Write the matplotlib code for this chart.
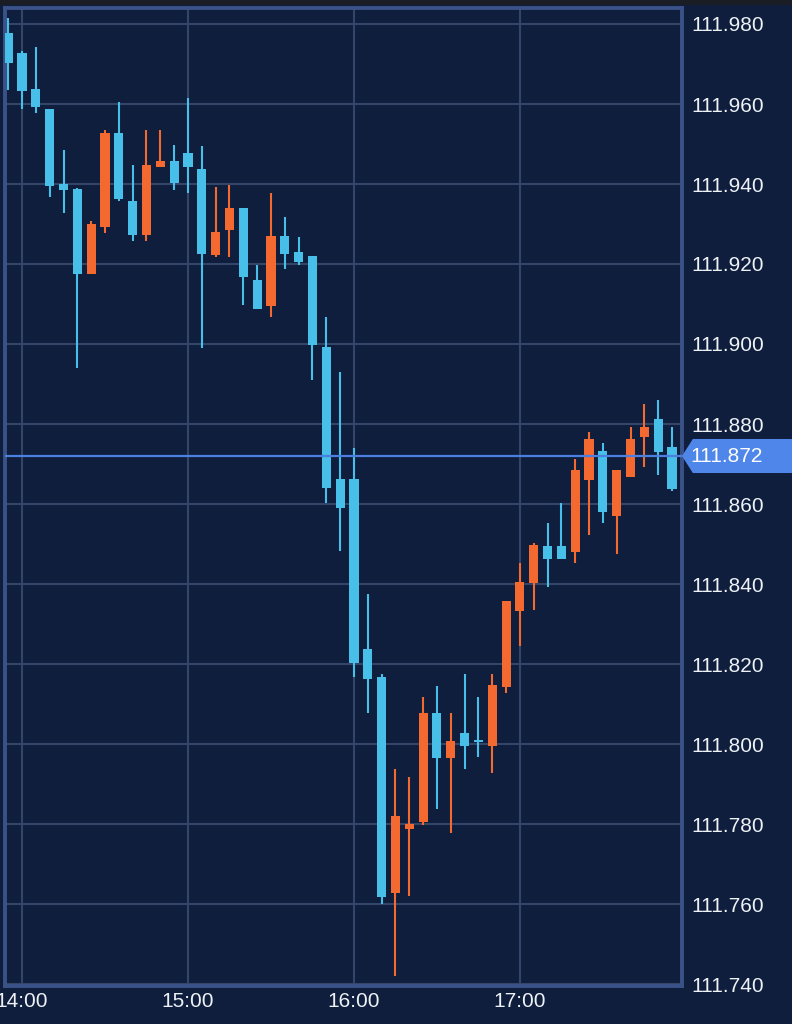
import numpy as np
import pandas as pd
import matplotlib
matplotlib.use("Agg")
import matplotlib.pyplot as plt
import matplotlib.dates as mdates
from matplotlib.patches import Polygon, Rectangle
from matplotlib.transforms import blended_transform_factory

# 5 minute candles starting 13:55
start = "2019-01-01 13:55"
opens = [111.9777, 111.9727, 111.9637, 111.9587, 111.9400, 111.9388, 111.9175, 111.9293,
         111.9527, 111.9358, 111.9273, 111.9443, 111.9458, 111.9478, 111.9438, 111.9222,
         111.9285, 111.9339, 111.9160, 111.9094, 111.9270, 111.9230, 111.9220, 111.8992,
         111.8663, 111.8663, 111.8237, 111.8168, 111.7627, 111.7787, 111.7805, 111.8078,
         111.7964, 111.8028, 111.8008, 111.7995, 111.8143, 111.8333, 111.8402, 111.8496,
         111.8496, 111.8480, 111.8660, 111.8733, 111.8570, 111.8668, 111.8768, 111.8813,
         111.8743]
closes = [111.9702, 111.9633, 111.9593, 111.9395, 111.9385, 111.9175, 111.9300, 111.9528,
          111.9362, 111.9273, 111.9448, 111.9458, 111.9403, 111.9443, 111.9225, 111.9279,
          111.9339, 111.9167, 111.9087, 111.9270, 111.9225, 111.9205, 111.8997, 111.8639,
          111.8590, 111.8203, 111.8163, 111.7617, 111.7820, 111.7800, 111.8078, 111.7964,
          111.8008, 111.7995, 111.8006, 111.8147, 111.8357, 111.8406, 111.8497, 111.8462,
          111.8462, 111.8685, 111.8763, 111.8579, 111.8685, 111.8763, 111.8793, 111.8730,
          111.8638]
highs = [111.9814, 111.9733, 111.9743, 111.9587, 111.9485, 111.9390, 111.9307, 111.9535,
         111.9604, 111.9447, 111.9535, 111.9535, 111.9497, 111.9614, 111.9496, 111.9393,
         111.9397, 111.9340, 111.9198, 111.9377, 111.9317, 111.9267, 111.9220, 111.9068,
         111.8929, 111.8741, 111.8375, 111.8174, 111.7937, 111.7917, 111.8117, 111.8145,
         111.8077, 111.8174, 111.8117, 111.8174, 111.8357, 111.8453, 111.8502, 111.8552,
         111.8602, 111.8712, 111.8781, 111.8752, 111.8685, 111.8792, 111.8850, 111.8860,
         111.8792]
lows = [111.9635, 111.9587, 111.9577, 111.9367, 111.9327, 111.8939, 111.9175, 111.9277,
        111.9357, 111.9258, 111.9258, 111.9443, 111.9385, 111.9377, 111.8989, 111.9218,
        111.9218, 111.9098, 111.9087, 111.9068, 111.9188, 111.9198, 111.8910, 111.8603,
        111.8483, 111.8167, 111.8077, 111.7600, 111.7420, 111.7620, 111.7798, 111.7838,
        111.7778, 111.7937, 111.7967, 111.7927, 111.8127, 111.8245, 111.8335, 111.8393,
        111.8462, 111.8453, 111.8523, 111.8553, 111.8474, 111.8668, 111.8692, 111.8672,
        111.8633]
last_price = 111.872
price_ticks = [111.740, 111.760, 111.780, 111.800, 111.820, 111.840, 111.860,
               111.880, 111.900, 111.920, 111.940, 111.960, 111.980]
hour_ticks = ["14:00", "15:00", "16:00", "17:00"]

bg = "#0e1e3c"
grid_c = "#33466a"
up_c = "#f3692f"
down_c = "#47bfe8"
tag_c = "#4f86ea"

times = pd.date_range(start, periods=len(opens), freq="5min")
x = mdates.date2num(times.to_pydatetime())
o = np.array(opens)
c = np.array(closes)
step = 5 / (24 * 60)

fig = plt.figure(figsize=(7.92, 10.24), dpi=100, facecolor=bg)
ax = fig.add_axes([5 / 792, 1 - 986 / 1024, 677 / 792, 978 / 1024])
ax.set_facecolor(bg)
fig.patches.append(Rectangle((0, 1 - 5 / 1024), 1, 5 / 1024, transform=fig.transFigure,
                             facecolor="#1b1d24", edgecolor="none"))

colors = [up_c if cl >= op else down_c for op, cl in zip(o, c)]
ax.vlines(x, lows, highs, colors=colors, linewidth=1.5, zorder=3)
body_h = np.maximum(np.abs(c - o), 0.0004)
ax.bar(x, body_h, bottom=np.minimum(o, c), width=step * 0.66, color=colors,
       linewidth=0, zorder=4)

# current price line
ax.axhline(last_price, color="#4b7fe0", linewidth=1.6, zorder=5)

ax.set_ylim(111.7395, 111.984)
x0 = mdates.date2num(pd.Timestamp("2019-01-01 14:00"))
ax.set_xlim(x0 - 1.23 * step, x0 + 47.72 * step)

hour_x = mdates.date2num(pd.to_datetime(["2019-01-01 " + h for h in hour_ticks]).to_pydatetime())
ax.set_xticks(hour_x)
ax.set_xticklabels(hour_ticks)
ax.set_yticks(price_ticks)
ax.set_yticklabels([f"{p:.3f}" for p in price_ticks])
ax.yaxis.tick_right()
ax.tick_params(axis="y", length=0, pad=6.5, labelcolor="#eef1f6", labelsize=15)
ax.tick_params(axis="x", length=0, pad=4, labelcolor="#eef1f6", labelsize=15)
for lab in ax.get_xticklabels() + ax.get_yticklabels():
    lab.set_fontfamily("Liberation Sans")

ax.grid(True, color=grid_c, linewidth=1.5, zorder=0)
ax.set_axisbelow(True)
for s in ax.spines.values():
    s.set_color("#3b5288")
    s.set_linewidth(2.8)

# price tag on the right axis, runs to the figure edge
tr = blended_transform_factory(ax.transAxes, ax.transData)
hh = 17 / 4000
tag = Polygon([(1.0, last_price), (1.016, last_price + hh), (1.2, last_price + hh),
               (1.2, last_price - hh), (1.016, last_price - hh)],
              closed=True, transform=tr, facecolor=tag_c, edgecolor="none",
              clip_on=False, zorder=6)
ax.add_patch(tag)
ax.text(1.0125, last_price, f"{last_price:.3f}", transform=tr, ha="left", va="center",
        color="white", fontsize=15, family="Liberation Sans", zorder=7, clip_on=False)

fig.savefig("out.png", dpi=100, facecolor=bg)
